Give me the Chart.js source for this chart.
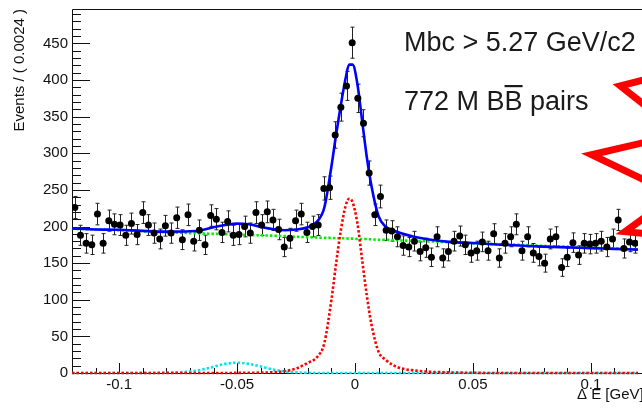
<!DOCTYPE html>
<html>
<head>
<meta charset="utf-8">
<script src="https://cdn.jsdelivr.net/npm/chart.js@4.4.1/dist/chart.umd.min.js"></script>
<style>
  html, body { margin: 0; padding: 0; background: #fff; }
</style>
</head>
<body>
<canvas id="deChart" width="642" height="408"></canvas>
<script>
// histogram: 100 bins of 0.0024 GeV from -0.12 to 0.12
const binLow = -0.12;
const binWidth = 0.0024;
const events = [
  226, 188, 177, 175, 217, 177, 208, 203, 202, 188,
  204, 189, 219, 202, 191, 183, 201, 191, 212, 182,
  216, 180, 195, 175, 215, 210, 192, 207, 188, 189,
  200, 191, 219, 202, 220, 209, 196, 172, 184, 208,
  217, 192, 200, 202, 252, 253, 325, 363, 392, 451,
  375, 341, 273, 216, 241, 195, 194, 186, 174, 172,
  180, 166, 171, 158, 186, 157, 166, 180, 187, 175,
  164, 167, 179, 167, 190, 157, 177, 186, 203, 167,
  186, 164, 159, 150, 183, 186, 144, 158, 178, 161,
  177, 176, 177, 180, 172, 183, 209, 170, 179, 177
];

// fit curves
const curveX = [-0.12, -0.11, -0.10, -0.09, -0.08, -0.07, -0.065, -0.06, -0.055, -0.05,
  -0.045, -0.04, -0.035, -0.03, -0.025, -0.02, -0.016, -0.013, -0.01, -0.008,
  -0.006, -0.004, -0.0025, -0.001, 0.001, 0.003, 0.005, 0.007, 0.01, 0.013,
  0.016, 0.02, 0.025, 0.03, 0.04, 0.05, 0.06, 0.07, 0.08, 0.09,
  0.10, 0.11, 0.12];
const fitTotal = [197.5, 196, 195.5, 194, 193, 193.5, 195, 199, 202, 204,
  203, 199.5, 196.5, 195, 196, 199, 207, 226, 282, 326,
  366, 402, 421, 421, 395, 345, 295, 255, 214, 200,
  195, 190.5, 186, 183, 179, 177.5, 175.5, 174, 172.5, 171.5,
  170.5, 169.5, 168.5];
const continuum = [197, 196, 195, 193.5, 192, 191, 190.5, 190, 189.5, 189,
  188.5, 188, 187.5, 187, 186, 185.5, 185, 184.5, 184.5, 184,
  184, 184, 183.5, 183.5, 183, 183, 183, 182.5, 182, 182,
  181.5, 181, 180.5, 180, 178.5, 177, 176, 175, 173.5, 172.5,
  171, 170, 169];
const signal = [0, 0, 0, 0, 0, 0, 0, 0, 0, 0.2,
  0.3, 0.5, 1, 2.5, 6, 14, 22, 41, 100, 150,
  195, 228, 238, 233, 205, 155, 106, 66, 29, 18,
  11, 6, 3.5, 2, 0.8, 0.3, 0, 0, 0, 0,
  0, 0, 0];
const sidePeak = [0, 0, 0, 0, 0.5, 2, 4.5, 8.5, 12.5, 14,
  12.5, 9, 5, 2.2, 0.8, 0.2, 0, 0, 0, 0,
  0, 0, 0, 0, 0, 0, 0, 0, 0, 0,
  0, 0, 0, 0, 0, 0, 0, 0, 0, 0,
  0, 0, 0];

const xTicks = [-0.1, -0.05, 0, 0.05, 0.1];
const xTickLabels = ["-0.1", "-0.05", "0", "0.05", "0.1"];
const yTicks = [0, 50, 100, 150, 200, 250, 300, 350, 400, 450];

const FONT = '"Liberation Sans", Arial, Helvetica, sans-serif';

const points = events.map((n, i) => ({ x: binLow + binWidth * (i + 0.5), y: n }));
const curve = (ys) => curveX.map((x, i) => ({ x: x, y: ys[i] }));

// red arrow marks on the right, in axis units: tip then two arm ends
const arrows = [
  { tip: [0.1125, 392], a: [0.127, 404], b: [0.127, 355] },
  { tip: [0.1003, 298], a: [0.127, 318], b: [0.127, 257] },
  { tip: [0.1145, 193], a: [0.127, 222], b: [0.127, 189] }
];

const frame = {
  id: "frame",
  beforeDatasetsDraw(chart) {
    const { ctx, chartArea: a, scales: { x, y } } = chart;
    ctx.save();
    ctx.strokeStyle = "#111";
    ctx.lineWidth = 1;
    ctx.beginPath();
    ctx.moveTo(a.left + 0.5, a.bottom);
    ctx.lineTo(a.left + 0.5, a.top + 0.5);
    ctx.lineTo(a.right + 5, a.top + 0.5);
    ctx.moveTo(a.left, a.bottom + 0.5);
    ctx.lineTo(a.right + 5, a.bottom + 0.5);
    for (let v = 0; v <= 490; v += 10) {
      const py = Math.round(y.getPixelForValue(v)) + 0.5;
      ctx.moveTo(a.left, py);
      ctx.lineTo(a.left + (v % 50 === 0 ? 18 : 9), py);
    }
    for (let k = -11; k <= 11; k++) {
      const px = Math.round(x.getPixelForValue(k / 100)) + 0.5;
      ctx.moveTo(px, a.bottom);
      ctx.lineTo(px, a.bottom - (k % 5 === 0 ? 10 : 5));
    }
    ctx.stroke();

    // error bars sqrt(N)
    ctx.strokeStyle = "#222";
    ctx.beginPath();
    points.forEach((p) => {
      const e = Math.sqrt(p.y);
      const px = Math.round(x.getPixelForValue(p.x)) + 0.5;
      const t = y.getPixelForValue(p.y + e);
      const b = y.getPixelForValue(p.y - e);
      ctx.moveTo(px, t); ctx.lineTo(px, b);
      ctx.moveTo(px - 2, t); ctx.lineTo(px + 2, t);
      ctx.moveTo(px - 2, b); ctx.lineTo(px + 2, b);
    });
    ctx.stroke();

    // x axis title, running off the right edge like the original
    ctx.fillStyle = "#111";
    ctx.font = "15px " + FONT;
    ctx.textBaseline = "alphabetic";
    ctx.fillText("\u0394 E [GeV]", 577, 398.5);
    ctx.restore();
  },
  afterDatasetsDraw(chart) {
    const { ctx, scales: { x, y } } = chart;
    ctx.save();
    ctx.strokeStyle = "#ff0000";
    ctx.lineWidth = 7;
    ctx.lineJoin = "miter";
    arrows.forEach((m) => {
      ctx.beginPath();
      ctx.moveTo(x.getPixelForValue(m.a[0]), y.getPixelForValue(m.a[1]));
      ctx.lineTo(x.getPixelForValue(m.tip[0]), y.getPixelForValue(m.tip[1]));
      ctx.lineTo(x.getPixelForValue(m.b[0]), y.getPixelForValue(m.b[1]));
      ctx.stroke();
    });

    ctx.fillStyle = "#1a1a1a";
    ctx.font = "27px " + FONT;
    ctx.textBaseline = "alphabetic";
    ctx.fillText("Mbc > 5.27 GeV/c2", 404, 51);
    ctx.fillText("772 M BB pairs", 404, 109.5);
    const x0 = 404 + ctx.measureText("772 M B").width;
    const w = ctx.measureText("B").width;
    ctx.fillRect(x0, 85, w, 2.2);
    ctx.restore();
  }
};

const dotted = { pointRadius: 0, borderWidth: 2.6, borderDash: [2.5, 2], cubicInterpolationMode: "monotone", clip: 4 };

new Chart(document.getElementById("deChart").getContext("2d"), {
  type: "scatter",
  data: {
    datasets: [
      {
        label: "data",
        data: points,
        pointRadius: 3.5,
        pointBackgroundColor: "#000",
        pointBorderWidth: 0,
        showLine: false,
        order: 0
      },
      {
        type: "line", label: "fit", data: curve(fitTotal),
        borderColor: "#0000ff", borderWidth: 2.6, pointRadius: 0,
        cubicInterpolationMode: "monotone", clip: 4, order: 1
      },
      Object.assign({ type: "line", label: "signal", data: curve(signal), borderColor: "#ff0000", order: 2 }, dotted),
      Object.assign({ type: "line", label: "continuum", data: curve(continuum), borderColor: "#00ee00", order: 3 }, dotted),
      Object.assign({ type: "line", label: "peaking", data: curve(sidePeak), borderColor: "#00e5ee", order: 4 }, dotted)
    ]
  },
  options: {
    responsive: false,
    animation: false,
    layout: { padding: { top: 9, left: 0, right: 0, bottom: 0 } },
    plugins: { legend: { display: false }, tooltip: { enabled: false } },
    scales: {
      x: {
        type: "linear",
        min: -0.12,
        max: 0.12,
        grid: { display: false, drawTicks: false },
        border: { display: false },
        afterBuildTicks: (s) => { s.ticks = xTicks.map((v) => ({ value: v })); },
        afterFit: (s) => { s.height = 35; s.paddingLeft = 0; s.paddingRight = 0; },
        ticks: {
          padding: 3,
          autoSkip: false,
          maxRotation: 0,
          color: "#111",
          font: { family: FONT, size: 15 },
          callback: (v, i) => xTickLabels[i]
        }
      },
      y: {
        min: 0,
        max: 497,
        grid: { display: false, drawTicks: false },
        border: { display: false },
        afterBuildTicks: (s) => { s.ticks = yTicks.map((v) => ({ value: v })); },
        afterFit: (s) => { s.width = 72; s.paddingTop = 0; s.paddingBottom = 0; },
        ticks: {
          padding: 4,
          autoSkip: false,
          color: "#111",
          font: { family: FONT, size: 15 }
        },
        title: {
          display: true,
          text: "Events / ( 0.0024 )",
          align: "end",
          color: "#111",
          font: { family: FONT, size: 15 },
          padding: { top: 11, bottom: 0 }
        }
      }
    }
  },
  plugins: [frame]
});
</script>
</body>
</html>
